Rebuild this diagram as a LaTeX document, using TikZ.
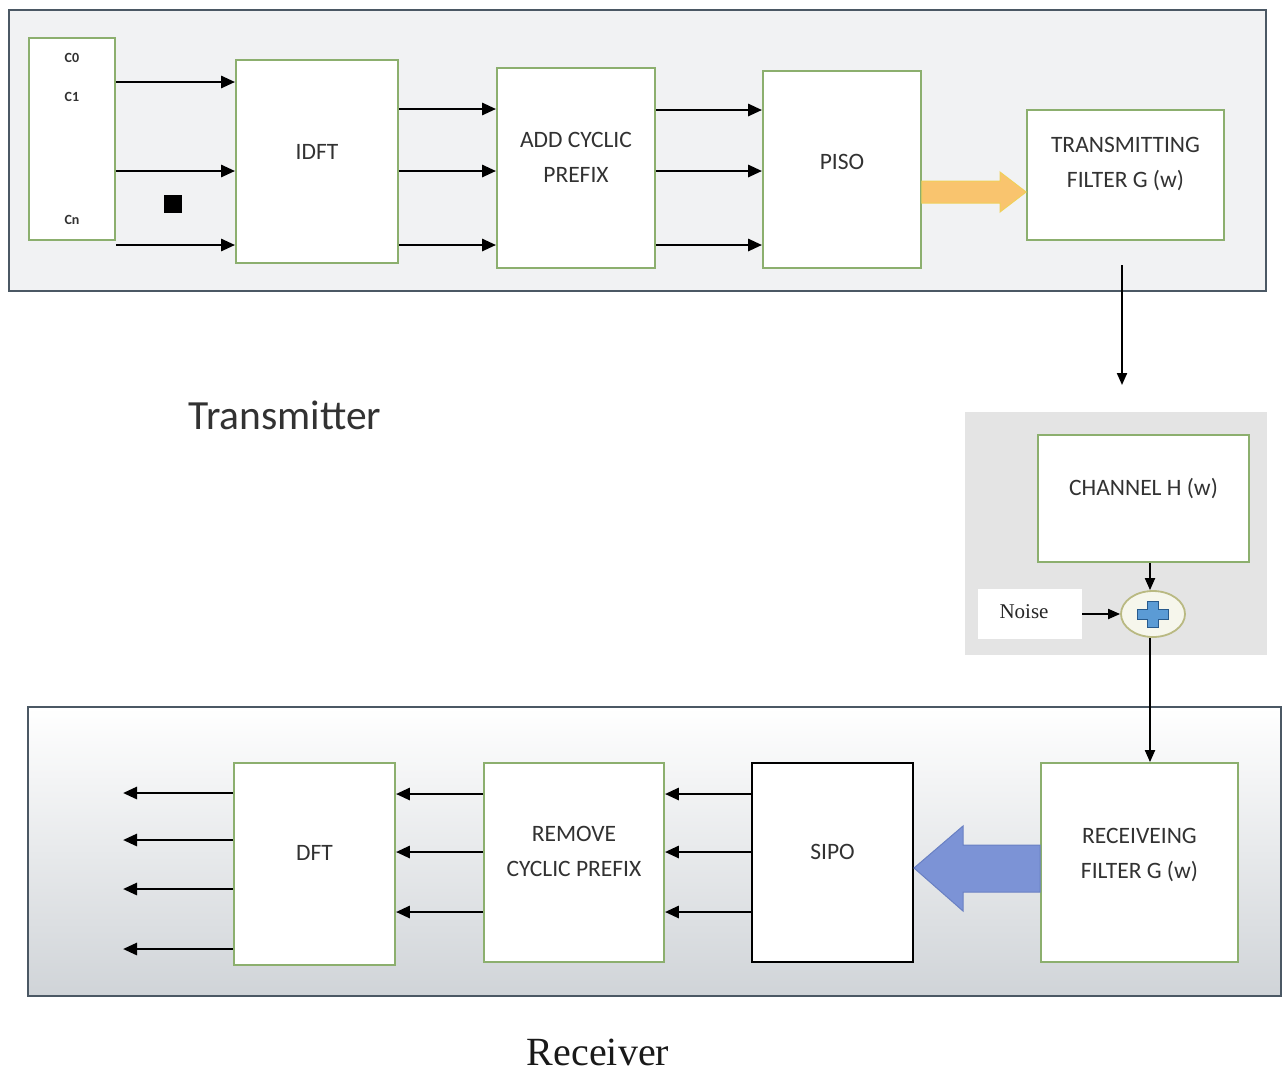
\documentclass[tikz,border=0pt]{standalone}
\usepackage{fontspec}
\setmainfont{Carlito}
\newfontfamily\seriffont{Liberation Serif}
\usetikzlibrary{arrows.meta,shapes.geometric}
\definecolor{gbord}{RGB}{140,175,110}
\definecolor{frame}{RGB}{75,88,100}
\definecolor{txtc}{RGB}{50,50,50}
\definecolor{txfill}{RGB}{241,242,243}
\definecolor{chfill}{RGB}{228,228,228}
\definecolor{rxbot}{RGB}{208,212,216}
\definecolor{orfill}{RGB}{249,196,110}
\definecolor{ordraw}{RGB}{240,208,90}
\definecolor{blfill}{RGB}{124,147,214}
\definecolor{bldraw}{RGB}{105,128,195}
\definecolor{plusfill}{RGB}{91,155,213}
\definecolor{plusdraw}{RGB}{40,90,140}
\definecolor{sumfill}{RGB}{246,246,236}
\definecolor{sumdraw}{RGB}{185,185,130}
\begin{document}
\begin{tikzpicture}[x=1pt,y=-1pt,
  blk/.style={draw=gbord, fill=white, line width=1.8pt, inner sep=0pt},
  blkblack/.style={draw=black, fill=white, line width=2pt, inner sep=0pt},
  lab/.style={align=center, text=txtc, font=\fontsize{23.5}{35}\selectfont, inner sep=0pt},
  small/.style={text=txtc, font=\fontsize{14}{16}\selectfont\bfseries, inner sep=0pt},
  arr/.style={line width=2.8pt, -{Triangle[length=14pt,width=12pt]}},
  thinarr/.style={line width=2pt, -{Triangle[length=12pt,width=10pt]}},
]
\useasboundingbox (0,0) rectangle (1282,1072);
\fill[white] (0,0) rectangle (1282,1072);

% Transmitter frame
\draw[frame, fill=txfill, line width=1.8pt] (9,10) rectangle (1266,291);

% Channel area
\fill[chfill] (965,412) rectangle (1267,655);

% Receiver frame
\shade[top color=white, middle color=white!96!black, bottom color=rxbot] (28,707) rectangle (1281,996);
\draw[frame, line width=1.8pt] (28,707) rectangle (1281,996);

% Transmitter blocks
\node[blk, minimum width=86, minimum height=202] (in) at (72,139) {};
\node[small] at (72,58) {C0};
\node[small] at (72,97) {C1};
\node[small] at (72,220) {Cn};

\node[blk, minimum width=162, minimum height=203] (idft) at (317,161.5) {};
\node[lab] at ([yshift=10pt]idft.center) {IDFT};

\node[blk, minimum width=158, minimum height=200] (acp) at (576,168) {};
\node[lab] at ([yshift=11pt]acp.center) {ADD CYCLIC\\PREFIX};

\node[blk, minimum width=158, minimum height=197] (piso) at (842,169.5) {};
\node[lab] at ([yshift=8pt]piso.center) {PISO};

\node[blk, minimum width=197, minimum height=130] (txf) at (1125.5,175) {};
\node[lab] at ([yshift=11pt]txf.center) {TRANSMITTING\\FILTER G (w)};

\fill (164,195) rectangle (182,213);

% arrows input -> IDFT
\foreach \yy in {82,171,245} {\draw[arr] (in.east |- 0,\yy) -- (idft.west |- 0,\yy);}
\foreach \yy in {109,171,245} {\draw[arr] (idft.east |- 0,\yy) -- (acp.west |- 0,\yy);}
\foreach \yy in {110,171,245} {\draw[arr] (acp.east |- 0,\yy) -- (piso.west |- 0,\yy);}

% orange block arrow
\draw[fill=orfill, draw=ordraw, line width=1pt]
  (piso.east |- 0,181) -- (1000,181) -- (1000,172) -- (txf.west |- 0,192) -- (1000,212) -- (1000,203) -- (piso.east |- 0,203) -- cycle;

% down arrow to channel
\coordinate (t1) at (1122,265);
\coordinate (t2) at (1122,385);
\draw[thinarr] (t1) -- (t2);

\node[text=txtc, font=\fontsize{41.5}{44}\selectfont, inner sep=0pt] (txlab) at (285,415) {Transmitter};

% Channel
\node[blk, minimum width=211, minimum height=127] (ch) at (1143.5,498.5) {};
\node[lab] at ([yshift=10pt]ch.center) {CHANNEL H (w)};

\node[ellipse, draw=sumdraw, fill=sumfill, line width=1.8pt, minimum width=64, minimum height=46, inner sep=0pt] (sum) at (1153,614) {};
\filldraw[fill=plusfill, draw=plusdraw, line width=1pt]
  (1147,601) -- (1158,601) -- (1158,609) -- (1168,609) -- (1168,619) -- (1158,619) -- (1158,627) -- (1147,627) -- (1147,619) -- (1137,619) -- (1137,609) -- (1147,609) -- cycle;

\node[fill=white, minimum width=104, minimum height=50, inner sep=0pt] (noise) at (1030,614) {};
\node[text=black!85, font=\seriffont\fontsize{21}{24}\selectfont, inner sep=0pt] at (1024,612) {Noise};

\draw[thinarr] (ch.south -| 1150,0) -- (sum.north -| 1150,0);
\draw[thinarr] (noise.east) -- (sum.west);

% Receiver blocks
\node[blk, minimum width=197, minimum height=199] (rxf) at (1139.5,862.5) {};
\node[lab] at ([yshift=8pt]rxf.center) {RECEIVEING\\FILTER G (w)};

\node[blkblack, minimum width=161, minimum height=199] (sipo) at (832.5,862.5) {};
\node[lab] at ([yshift=11pt]sipo.center) {SIPO};

\node[blk, minimum width=180, minimum height=199] (rcp) at (574,862.5) {};
\node[lab] at ([yshift=11pt]rcp.center) {REMOVE\\CYCLIC PREFIX};

\node[blk, minimum width=161, minimum height=202] (dft) at (314.5,864) {};
\node[lab] at ([yshift=11pt]dft.center) {DFT};

\draw[thinarr] (sum.south -| 1150,0) -- (rxf.north -| 1150,0);

% blue block arrow
\draw[fill=blfill, draw=bldraw, line width=1pt]
  (rxf.west |- 0,845) -- (963,845) -- (963,826) -- (sipo.east |- 0,868) -- (963,911) -- (963,892) -- (rxf.west |- 0,892) -- cycle;

\foreach \yy in {794,852,912} {\draw[arr] (sipo.west |- 0,\yy) -- (rcp.east |- 0,\yy);}
\foreach \yy in {794,852,912} {\draw[arr] (rcp.west |- 0,\yy) -- (dft.east |- 0,\yy);}

\coordinate (o1) at (123,793);
\coordinate (o2) at (123,840);
\coordinate (o3) at (123,889);
\coordinate (o4) at (123,949);
\foreach \k/\yy in {1/793,2/840,3/889,4/949} {\draw[arr] (dft.west |- 0,\yy) -- (o\k);}

\node[text=black!90, font=\seriffont\fontsize{40}{44}\selectfont, inner sep=0pt] (rxlab) at (598,1052) {Receiver};
\end{tikzpicture}
\end{document}
